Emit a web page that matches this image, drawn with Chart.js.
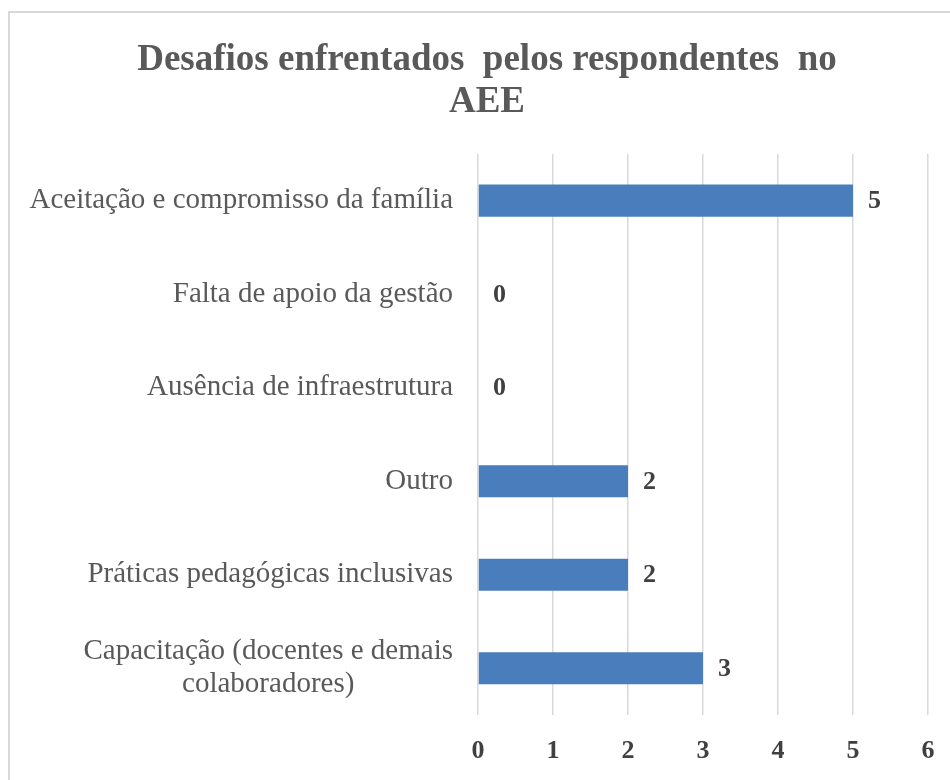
<!DOCTYPE html>
<html lang="pt">
<head>
<meta charset="utf-8">
<title>Desafios enfrentados pelos respondentes no AEE</title>
<script src="https://cdn.jsdelivr.net/npm/chart.js@4/dist/chart.umd.min.js"></script>
<style>
  html, body { margin: 0; padding: 0; background: #ffffff; }
  #wrap { width: 950px; height: 780px; }
</style>
</head>
<body>
<div id="wrap"><canvas id="chart" width="950" height="780"></canvas></div>
<script>
// Categorias (eixo vertical) e número de respondentes por desafio
const categories = [
  'Aceitação e compromisso da família',
  'Falta de apoio da gestão',
  'Ausência de infraestrutura',
  'Outro',
  'Práticas pedagógicas inclusivas',
  ['Capacitação (docentes e demais', 'colaboradores)']
];
const respondents = [5, 0, 0, 2, 2, 3];
const xTickValues = [0, 1, 2, 3, 4, 5, 6];
const titleLines = ['Desafios enfrentados  pelos respondentes  no', 'AEE'];

const SERIF = "'Liberation Serif', 'Times New Roman', serif";
const LABEL_RIGHT = 453;

// Moldura cinza clara em torno do gráfico
const framePlugin = {
  id: 'frame',
  beforeDraw(chart) {
    const ctx = chart.ctx;
    ctx.save();
    ctx.strokeStyle = '#d9d9d9';
    ctx.lineWidth = 2;
    ctx.beginPath();
    ctx.moveTo(9, 780);
    ctx.lineTo(9, 12);
    ctx.lineTo(950, 12);
    ctx.stroke();
    ctx.restore();
  }
};

// Rótulos das categorias: alinhados à direita, linhas quebradas centralizadas entre si
const categoryLabelPlugin = {
  id: 'categoryLabels',
  afterDraw(chart) {
    const ctx = chart.ctx;
    const yScale = chart.scales.y;
    ctx.save();
    ctx.font = '29px ' + SERIF;
    ctx.fillStyle = '#595959';
    ctx.textAlign = 'center';
    ctx.textBaseline = 'middle';
    const lineH = 33;
    categories.forEach((cat, i) => {
      const lines = Array.isArray(cat) ? cat : [cat];
      const widest = Math.max(...lines.map(l => ctx.measureText(l).width));
      const cx = LABEL_RIGHT - widest / 2;
      const cy = yScale.getPixelForValue(i);
      const y0 = cy - (lines.length - 1) * lineH / 2;
      lines.forEach((l, k) => ctx.fillText(l, cx, y0 + k * lineH));
    });
    ctx.restore();
  }
};

// Valores ao final de cada barra
const valueLabelPlugin = {
  id: 'valueLabels',
  afterDatasetsDraw(chart) {
    const ctx = chart.ctx;
    const meta = chart.getDatasetMeta(0);
    ctx.save();
    ctx.font = 'bold 26px ' + SERIF;
    ctx.fillStyle = '#404040';
    ctx.textAlign = 'left';
    ctx.textBaseline = 'middle';
    meta.data.forEach((bar, i) => {
      ctx.fillText(String(respondents[i]), bar.x + 15, bar.y + 1);
    });
    ctx.restore();
  }
};

new Chart(document.getElementById('chart'), {
  type: 'bar',
  data: {
    labels: categories,
    datasets: [{
      data: respondents,
      backgroundColor: '#4a7dbb',
      borderWidth: 0,
      categoryPercentage: 1,
      barPercentage: 0.343
    }]
  },
  options: {
    indexAxis: 'y',
    responsive: false,
    animation: false,
    layout: { padding: { left: 46, right: 22, top: 0, bottom: 0 } },
    plugins: {
      legend: { display: false },
      tooltip: { enabled: false },
      title: {
        display: true,
        text: titleLines,
        color: '#595959',
        font: { family: SERIF, size: 37, weight: 'bold', lineHeight: 1.12 },
        padding: { top: 40, bottom: 31 }
      }
    },
    scales: {
      x: {
        min: 0,
        max: 6,
        afterBuildTicks(scale) {
          scale.ticks = xTickValues.map(v => ({ value: v }));
        },
        afterFit(scale) {
          scale.height = 65;
          scale.paddingLeft = 0;
          scale.paddingRight = 0;
        },
        grid: { color: '#d9d9d9', lineWidth: 1.5, drawTicks: false },
        border: { display: false },
        ticks: {
          padding: 21,
          color: '#404040',
          font: { family: SERIF, size: 26, weight: 'bold' }
        }
      },
      y: {
        afterFit(scale) {
          scale.width = 478 - 46;
          scale.paddingTop = 0;
          scale.paddingBottom = 0;
        },
        grid: { display: false },
        border: { display: false },
        ticks: { display: false }
      }
    }
  },
  plugins: [framePlugin, categoryLabelPlugin, valueLabelPlugin]
});
</script>
</body>
</html>
